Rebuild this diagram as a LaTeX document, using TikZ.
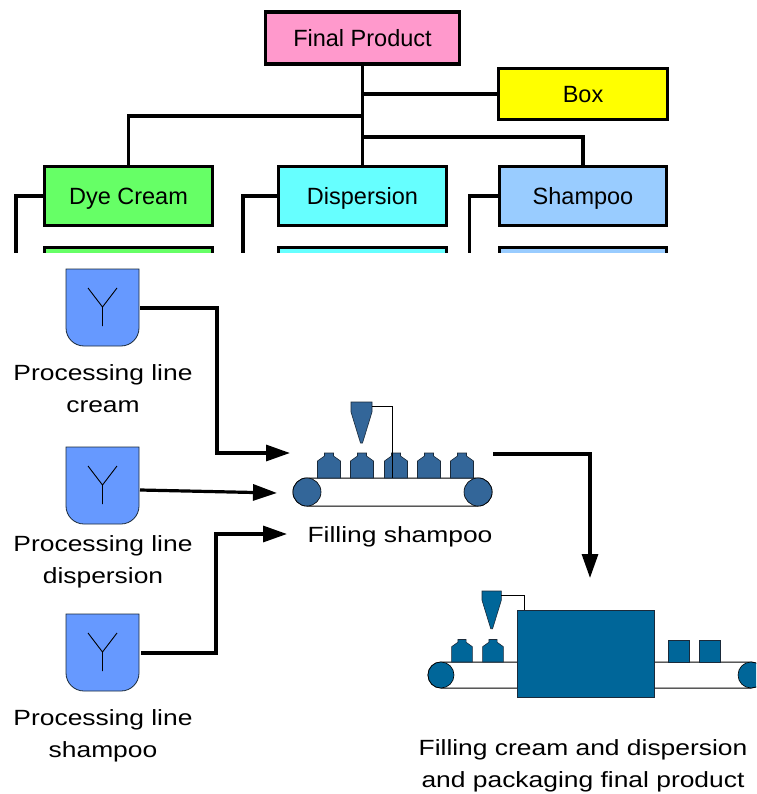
\documentclass[tikz,border=0pt]{standalone}
\usepackage{fontspec}
\setmainfont{Liberation Sans}
\newfontfamily\widesans[FakeStretch=1.2]{Liberation Sans}
\usetikzlibrary{arrows.meta}

\definecolor{fpPink}{HTML}{FF99CC}
\definecolor{boxYellow}{HTML}{FFFF00}
\definecolor{creamGreen}{HTML}{66FF66}
\definecolor{dispCyan}{HTML}{66FFFF}
\definecolor{shampooBlue}{HTML}{99CCFF}
\definecolor{tankBlue}{HTML}{6699FF}
\definecolor{bottleBlue}{HTML}{336699}
\definecolor{packBlue}{HTML}{006699}
\definecolor{edgeDark}{HTML}{1A2A3A}

\newcommand\orgfont{\fontsize{23.5}{28}\selectfont}
\newcommand\capfont{\widesans\fontsize{22}{32}\selectfont}

\begin{document}
\begin{tikzpicture}[x=1pt,y=-1pt,
  orgbox/.style={draw, line width=3.2pt, inner sep=0pt, font=\orgfont,
    text height=16.8pt, text depth=0pt},
  orgline/.style={line width=3.2pt},
  flow/.style={line width=3.2pt, -{Triangle[length=24pt,width=16pt]}},
  caption/.style={font=\capfont, anchor=base, inner sep=0pt, align=center},
  thinline/.style={draw=black, line width=0.8pt},
  tankbody/.style={draw=edgeDark, fill=tankBlue, line width=0.8pt},
  bottlebody/.style={draw=edgeDark, fill=bottleBlue, line width=0.6pt},
  packbody/.style={draw=edgeDark, fill=packBlue, line width=0.6pt},
  belt/.style={draw=black, fill=white, line width=1pt},
  % storage tank with rounded bottom corners and a Y mark
  tank/.pic={
    \path[tankbody] (0,0) -- (73,0) -- (73,59)
      arc[start angle=0, end angle=90, radius=18] -- (18,77)
      arc[start angle=90, end angle=180, radius=18] -- cycle;
    \draw[line width=0.9pt] (22,19) -- (36.5,38) -- (51,19) (36.5,38) -- (36.5,57);
  },
  % bottle standing on a belt, origin at the bottom centre
  bottle/.pic={
    \path[pic actions] (-11.5,0) -- (-11.5,-17) -- (-4.5,-22) -- (-4.5,-25)
      -- (4.5,-25) -- (4.5,-22) -- (11.5,-17) -- (11.5,0) -- cycle;
  },
  % filling funnel, origin at the top left corner
  funnel/.pic={
    \path[pic actions] (0,0) -- (21,0) -- (21,10) -- (11.5,41) -- (9.5,41) -- (0,10) -- cycle;
  },
]
\useasboundingbox (0,0) rectangle (756,794);

% ---------- product structure tree ----------
\begin{scope}
\clip (0,0) rectangle (756,252);
\node[orgbox, fill=fpPink, minimum width=194pt, minimum height=52pt] (fp) at (362.5,38) {Final Product};
\node[orgbox, fill=boxYellow, minimum width=169pt, minimum height=51pt] (box) at (583,94) {Box};
\node[orgbox, fill=creamGreen, minimum width=168pt, minimum height=59pt] (dye) at (128.5,196) {Dye Cream};
\node[orgbox, fill=dispCyan, minimum width=168pt, minimum height=59pt] (disp) at (362.5,196) {Dispersion};
\node[orgbox, fill=shampooBlue, minimum width=167pt, minimum height=59pt] (sham) at (583,196) {Shampoo};
\node[orgbox, fill=creamGreen, minimum width=168pt, minimum height=59pt] (dye2) at (128.5,277) {};
\node[orgbox, fill=dispCyan, minimum width=168pt, minimum height=59pt] (disp2) at (362.5,277) {};
\node[orgbox, fill=shampooBlue, minimum width=167pt, minimum height=59pt] (sham2) at (583,277) {};

\coordinate (jDye) at (362.5,116);
\coordinate (jSham) at (362.5,137);
\draw[orgline] (fp.south) -- (disp.north);
\draw[orgline] (fp.south |- box.west) -- (box.west);
\draw[orgline] (jDye) -| (dye.north);
\draw[orgline] (jSham) -| (sham.north);
\draw[orgline] (dye.west) -| ([xshift=-27pt]dye2.west) -- (dye2.west);
\draw[orgline] (disp.west) -| ([xshift=-34pt]disp2.west) -- (disp2.west);
\draw[orgline] (sham.west) -| ([xshift=-28.5pt]sham2.west) -- (sham2.west);
\end{scope}

% ---------- processing lines ----------
\pic at (66,269) {tank};
\pic at (66,447) {tank};
\pic at (66,614) {tank};
\node[caption] (capCream) at (103,412) {Processing line\\cream};
\node[caption] (capDisp) at (103,583) {Processing line\\dispersion};
\node[caption] (capSham) at (103,757) {Processing line\\shampoo};

\coordinate (outCream) at (140,308);
\coordinate (outDisp) at (140,490);
\coordinate (outSham) at (141,653);

% ---------- shampoo filling line ----------
\path[belt] (307,478) -- (478,478) arc[start angle=-90, end angle=90, radius=14]
  -- (307,506) arc[start angle=90, end angle=270, radius=14] -- cycle;
\foreach \bx in {329,362,396,429,462}
  \pic[bottlebody] at (\bx,478) {bottle};
\pic[bottlebody] at (351,402) {funnel};
\draw[thinline] (372,406) -- (392,406) -- (392,478);
\node[circle, bottlebody, draw=black, minimum size=28pt, inner sep=0pt] (rollA) at (307,492) {};
\node[circle, bottlebody, draw=black, minimum size=28pt, inner sep=0pt] (rollB) at (478,492) {};
\node[caption] (capFill) at (400,542) {Filling shampoo};

\coordinate (inCream) at (290,453);
\coordinate (inDisp) at (277,493);
\coordinate (inSham) at (287,534);
\coordinate (bendCream) at (217,453);
\coordinate (bendSham) at (216,534);
\coordinate (outFill) at (493,454);

% ---------- cream/dispersion filling and packaging line ----------
\begin{scope}
\clip (0,0) rectangle (756,794);
\path[belt] (441,662) -- (751,662) arc[start angle=-90, end angle=90, radius=13]
  -- (441,688) arc[start angle=90, end angle=270, radius=13] -- cycle;
\foreach \bx in {462,493}
  \pic[packbody, scale=0.9] at (\bx,662) {bottle};
\pic[packbody, scale=0.92] at (482,591) {funnel};
\draw[thinline] (501,595) -- (524,595) -- (524,610);
\node[rectangle, packbody, minimum width=137pt, minimum height=87pt, inner sep=0pt] (packer) at (585.5,653.5) {};
\node[rectangle, packbody, minimum width=21pt, minimum height=22pt, inner sep=0pt] (cartonA) at (678.5,651) {};
\node[rectangle, packbody, minimum width=21pt, minimum height=22pt, inner sep=0pt] (cartonB) at (709.5,651) {};
\node[circle, packbody, draw=black, minimum size=26pt, inner sep=0pt] (rollC) at (441,675) {};
\node[circle, packbody, draw=black, minimum size=26pt, inner sep=0pt] (rollD) at (751,675) {};
\end{scope}
\node[caption] (capPack) at (583,787) {Filling cream and dispersion\\and packaging final product};
\coordinate (inPack) at (590,578);

% ---------- material flow ----------
\draw[flow] (outCream) -| (bendCream) -- (inCream);
\draw[flow] (outDisp) -- (inDisp);
\draw[flow] (outSham) -| (bendSham) -- (inSham);
\draw[flow] (outFill) -| (inPack);
\end{tikzpicture}
\end{document}
